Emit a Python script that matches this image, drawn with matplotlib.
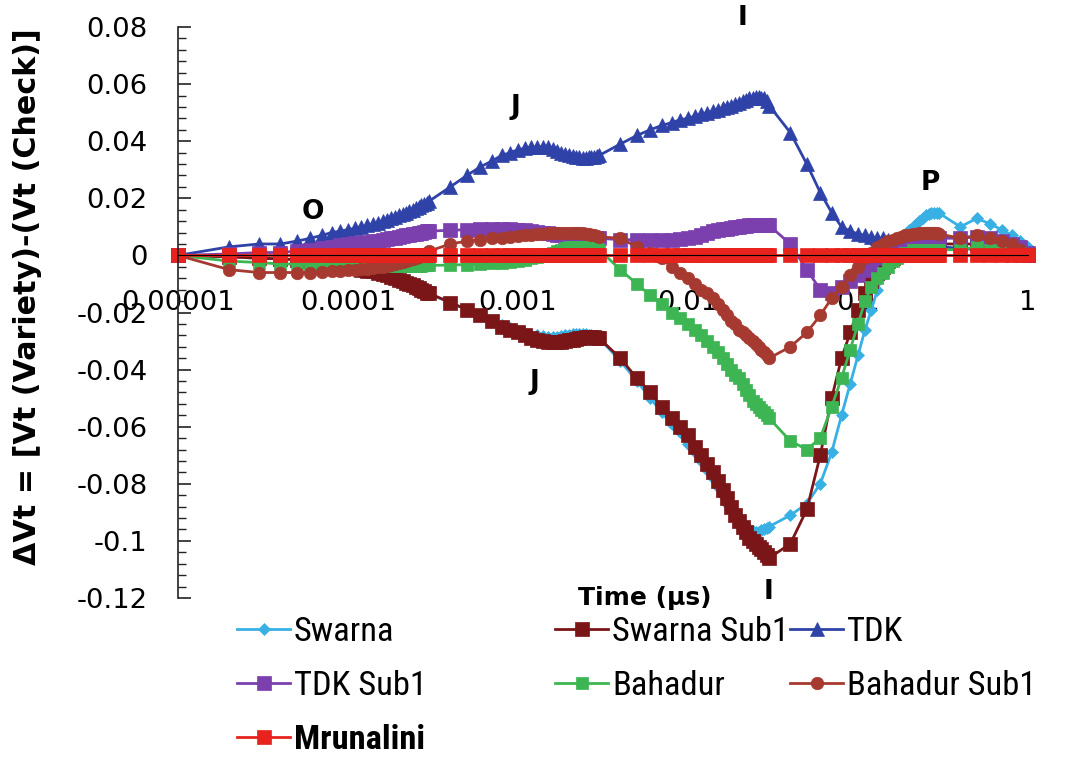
import matplotlib
matplotlib.use("Agg")
import matplotlib.pyplot as plt
from matplotlib import font_manager
from matplotlib.font_manager import FontProperties
from matplotlib.ticker import FixedLocator, NullLocator

# ---------------- data ----------------
t = [0.00001, 0.00002, 0.00003, 0.00004, 0.00005, 0.00006, 0.00007, 0.00008, 0.00009, 0.0001,
     0.00011, 0.00012, 0.00013, 0.00014, 0.00015, 0.00016, 0.00017, 0.00018, 0.00019, 0.0002,
     0.00021, 0.00022, 0.00023, 0.00024, 0.00025, 0.00026, 0.00027, 0.00028, 0.00029, 0.0003,
     0.0004, 0.0005, 0.0006, 0.0007, 0.0008, 0.0009, 0.001, 0.0011, 0.0012, 0.0013,
     0.0014, 0.0015, 0.0016, 0.0017, 0.0018, 0.0019, 0.002, 0.0021, 0.0022, 0.0023,
     0.0024, 0.0025, 0.0026, 0.0027, 0.0028, 0.0029, 0.003,
     0.004, 0.005, 0.006, 0.007, 0.008, 0.009, 0.01, 0.011, 0.012, 0.013,
     0.014, 0.015, 0.016, 0.017, 0.018, 0.019, 0.02, 0.021, 0.022, 0.023,
     0.024, 0.025, 0.026, 0.027, 0.028, 0.029, 0.03,
     0.04, 0.05, 0.06, 0.07, 0.08, 0.09, 0.1, 0.11, 0.12, 0.13,
     0.14, 0.15, 0.16, 0.17, 0.18, 0.19, 0.2, 0.21, 0.22, 0.23,
     0.24, 0.25, 0.26, 0.27, 0.28, 0.29, 0.3,
     0.4, 0.5, 0.6, 0.7, 0.8, 0.9, 1.0]

swarna = [0.0, -0.0005, -0.001, -0.0012, -0.0015, -0.002, -0.0025, -0.003, -0.0035, -0.004,
          -0.0045, -0.005, -0.0055, -0.006, -0.0063, -0.0067, -0.007, -0.0075, -0.008, -0.0085,
          -0.009, -0.0095, -0.010, -0.0105, -0.011, -0.0115, -0.012, -0.0125, -0.013, -0.0135,
          -0.0165, -0.019, -0.021, -0.023, -0.0245, -0.0255, -0.0265, -0.0272, -0.0278, -0.028,
          -0.0283, -0.0285, -0.0285, -0.0285, -0.0283, -0.028, -0.0278, -0.0276, -0.0275, -0.0275,
          -0.0275, -0.0276, -0.0278, -0.028, -0.0282, -0.0285, -0.029,
          -0.037, -0.044, -0.050, -0.055, -0.059, -0.062, -0.066, -0.069, -0.072, -0.075,
          -0.078, -0.081, -0.084, -0.087, -0.089, -0.091, -0.093, -0.094, -0.095, -0.096,
          -0.0965, -0.097, -0.0968, -0.0963, -0.096, -0.0955, -0.095,
          -0.091, -0.087, -0.080, -0.069, -0.056, -0.045, -0.035, -0.026, -0.019, -0.012,
          -0.007, -0.003, 0.0, 0.003, 0.005, 0.007, 0.009, 0.010, 0.011, 0.012,
          0.013, 0.014, 0.0145, 0.015, 0.015, 0.015, 0.0148,
          0.010, 0.013, 0.011, 0.009, 0.007, 0.005, 0.003]

swarna_sub1 = [0.0, -0.0005, -0.001, -0.0012, -0.0015, -0.002, -0.0025, -0.003, -0.0035, -0.004,
               -0.0045, -0.005, -0.0053, -0.0056, -0.006, -0.0065, -0.007, -0.0075, -0.008, -0.0085,
               -0.009, -0.0095, -0.010, -0.0105, -0.011, -0.0115, -0.012, -0.0125, -0.013, -0.0133,
               -0.0165, -0.019, -0.021, -0.023, -0.025, -0.026, -0.027, -0.028, -0.029, -0.0295,
               -0.030, -0.0303, -0.0305, -0.0305, -0.0303, -0.030, -0.0298, -0.0295, -0.0292, -0.029,
               -0.0288, -0.0285, -0.0285, -0.0285, -0.0285, -0.0288, -0.029,
               -0.036, -0.043, -0.048, -0.053, -0.057, -0.060, -0.063, -0.067, -0.070, -0.073,
               -0.076, -0.079, -0.082, -0.085, -0.088, -0.091, -0.093, -0.095, -0.097, -0.099,
               -0.100, -0.101, -0.102, -0.103, -0.104, -0.105, -0.106,
               -0.101, -0.089, -0.070, -0.050, -0.036, -0.027, -0.019, -0.013, -0.009, -0.006,
               -0.004, -0.002, -0.001, 0.0, 0.001, 0.002, 0.002, 0.003, 0.003, 0.003,
               0.004, 0.004, 0.004, 0.004, 0.004, 0.004, 0.004,
               0.004, 0.004, 0.003, 0.003, 0.002, 0.001, 0.0]

tdk = [0.0, 0.003, 0.004, 0.004, 0.005, 0.006, 0.007, 0.008, 0.0085, 0.009,
       0.0095, 0.010, 0.0105, 0.011, 0.0115, 0.012, 0.0125, 0.013, 0.0135, 0.014,
       0.0145, 0.015, 0.0155, 0.016, 0.0165, 0.017, 0.0175, 0.018, 0.0185, 0.019,
       0.024, 0.028, 0.031, 0.033, 0.035, 0.036, 0.037, 0.0375, 0.038, 0.038,
       0.038, 0.0378, 0.0372, 0.0366, 0.036, 0.0355, 0.035, 0.0347, 0.0345, 0.0343,
       0.0342, 0.0342, 0.0343, 0.0344, 0.0345, 0.0347, 0.035,
       0.039, 0.042, 0.044, 0.0455, 0.0465, 0.0475, 0.048, 0.0488, 0.0495, 0.050,
       0.0505, 0.051, 0.0515, 0.052, 0.0525, 0.053, 0.0535, 0.054, 0.0545, 0.055,
       0.0552, 0.0555, 0.0555, 0.0553, 0.055, 0.054, 0.0525,
       0.043, 0.032, 0.022, 0.015, 0.010, 0.0085, 0.0075, 0.007, 0.0065, 0.006,
       0.006, 0.0055, 0.005, 0.005, 0.0045, 0.0045, 0.004, 0.004, 0.004, 0.0035,
       0.0035, 0.0035, 0.003, 0.003, 0.003, 0.003, 0.003,
       0.0025, 0.002, 0.002, 0.0015, 0.001, 0.0005, 0.0]

tdk_sub1 = [0.0, 0.0005, 0.001, 0.001, 0.0015, 0.002, 0.0025, 0.003, 0.0035, 0.004,
            0.0042, 0.0045, 0.0048, 0.005, 0.0052, 0.0055, 0.0057, 0.006, 0.0062, 0.0065,
            0.0067, 0.007, 0.0072, 0.0074, 0.0076, 0.0078, 0.008, 0.0082, 0.0084, 0.0085,
            0.0088, 0.009, 0.0092, 0.0093, 0.0093, 0.0092, 0.009, 0.0088, 0.0085, 0.0082,
            0.008, 0.0078, 0.0075, 0.0072, 0.007, 0.0068, 0.0066, 0.0064, 0.0062, 0.006,
            0.006, 0.006, 0.006, 0.006, 0.006, 0.006, 0.006,
            0.0055, 0.0055, 0.0055, 0.0055, 0.0055, 0.0058, 0.006, 0.0065, 0.007, 0.0078,
            0.0085, 0.009, 0.0092, 0.0094, 0.0096, 0.0098, 0.010, 0.0102, 0.0104, 0.0105,
            0.0106, 0.0107, 0.0108, 0.0108, 0.0108, 0.0108, 0.0105,
            0.004, -0.005, -0.012, -0.013, -0.011, -0.009, -0.007, -0.005, -0.003, -0.001,
            0.0, 0.001, 0.002, 0.003, 0.004, 0.0045, 0.005, 0.005, 0.0055, 0.0055,
            0.006, 0.006, 0.006, 0.006, 0.006, 0.006, 0.006,
            0.006, 0.0065, 0.006, 0.005, 0.004, 0.003, 0.001]

bahadur = [0.0, -0.002, -0.0025, -0.003, -0.003, -0.003, -0.003, -0.0032, -0.0032, -0.0033,
           -0.0033, -0.0034, -0.0034, -0.0035, -0.0035, -0.0035, -0.0035, -0.0036, -0.0036, -0.0036,
           -0.0036, -0.0036, -0.0036, -0.0036, -0.0036, -0.0036, -0.0036, -0.0035, -0.0035, -0.0035,
           -0.0034, -0.0032, -0.003, -0.0028, -0.0025, -0.0022, -0.002, -0.0015, -0.001, -0.0005,
           0.0, 0.0005, 0.001, 0.0015, 0.002, 0.0025, 0.003, 0.003, 0.003, 0.003,
           0.003, 0.003, 0.003, 0.003, 0.0028, 0.0025, 0.002,
           -0.005, -0.010, -0.014, -0.017, -0.020, -0.022, -0.024, -0.026, -0.028, -0.030,
           -0.032, -0.034, -0.036, -0.038, -0.040, -0.042, -0.043, -0.045, -0.047, -0.049,
           -0.051, -0.052, -0.053, -0.054, -0.055, -0.056, -0.057,
           -0.065, -0.068, -0.064, -0.053, -0.043, -0.033, -0.024, -0.016, -0.011, -0.008,
           -0.006, -0.004, -0.002, -0.001, 0.0, 0.001, 0.001, 0.002, 0.002, 0.002,
           0.002, 0.002, 0.002, 0.002, 0.002, 0.002, 0.002,
           0.002, 0.003, 0.002, 0.002, 0.001, 0.001, 0.0]

bahadur_sub1 = [0.0, -0.005, -0.006, -0.006, -0.006, -0.006, -0.0058, -0.0056, -0.0054, -0.0052,
                -0.005, -0.0048, -0.0046, -0.0044, -0.0042, -0.004, -0.0037, -0.0034, -0.003, -0.0027,
                -0.0024, -0.002, -0.0016, -0.0012, -0.0008, -0.0004, 0.0, 0.0005, 0.001, 0.0015,
                0.004, 0.005, 0.0055, 0.006, 0.0062, 0.0065, 0.0068, 0.007, 0.0072, 0.0074,
                0.0076, 0.0078, 0.008, 0.008, 0.008, 0.008, 0.008, 0.008, 0.008, 0.008,
                0.0078, 0.0076, 0.0074, 0.0072, 0.007, 0.0068, 0.0065,
                0.006, 0.003, 0.001, -0.001, -0.004, -0.006, -0.008, -0.010, -0.012, -0.013,
                -0.015, -0.017, -0.019, -0.021, -0.023, -0.024, -0.026, -0.027, -0.028, -0.029,
                -0.030, -0.031, -0.032, -0.033, -0.034, -0.035, -0.036,
                -0.032, -0.027, -0.021, -0.015, -0.011, -0.007, -0.004, -0.001, 0.001, 0.003,
                0.004, 0.005, 0.0055, 0.006, 0.0065, 0.007, 0.007, 0.0075, 0.0075, 0.008,
                0.008, 0.008, 0.008, 0.008, 0.008, 0.0078, 0.0075,
                0.006, 0.007, 0.006, 0.005, 0.004, 0.002, 0.0]

mrunalini = [0.0] * len(t)

series_names = ["Swarna", "Swarna Sub1", "TDK", "TDK Sub1", "Bahadur", "Bahadur Sub1", "Mrunalini"]
x_tick_values = [0.00001, 0.0001, 0.001, 0.01, 0.1, 1]
x_tick_labels = ["0.00001", "0.0001", "0.001", "0.01", "0.1", "1"]
y_tick_values = [0.08, 0.06, 0.04, 0.02, 0, -0.02, -0.04, -0.06, -0.08, -0.1, -0.12]
y_tick_labels = ["0.08", "0.06", "0.04", "0.02", "0", "-0.02", "-0.04", "-0.06", "-0.08", "-0.1", "-0.12"]

# ---------------- fonts ----------------
plt.rcParams["font.family"] = ["DejaVu Sans"]


def _w(f):
    w = f.weight
    if isinstance(w, str):
        w = font_manager.weight_dict.get(w, 400)
    return w


def _is_narrow(f):
    nm = f.name
    if "Narrow" in nm or "Condensed" in nm:
        return True
    s = f.stretch
    if isinstance(s, str):
        return s in ("condensed", "semi-condensed", "extra-condensed", "ultra-condensed")
    return isinstance(s, int) and s < 500


def find_font(bold):
    prefs = ["Liberation Sans Narrow", "Arial Narrow", "Roboto Condensed", "Open Sans",
             "Noto Sans", "DejaVu Sans", "Lato", "Inter"]
    best, best_rank = None, 99
    for f in font_manager.fontManager.ttflist:
        if f.style != "normal" or not _is_narrow(f):
            continue
        w = _w(f)
        if bold and w < 600:
            continue
        if not bold and not (350 <= w <= 500):
            continue
        rank = 50
        for i, p in enumerate(prefs):
            if f.name.startswith(p):
                rank = i
                break
        if rank < best_rank:
            best, best_rank = f.fname, rank
    return best


reg_path = find_font(False)
bold_path = find_font(True)
if reg_path:
    leg_reg = FontProperties(fname=reg_path)
    leg_bold = FontProperties(fname=bold_path) if bold_path else FontProperties(fname=reg_path, weight="bold")
else:
    leg_reg = FontProperties(family="Liberation Sans")
    leg_bold = FontProperties(family="Liberation Sans", weight="bold")

# ---------------- figure ----------------
W, H = 1092, 757
fig = plt.figure(figsize=(W / 100, H / 100), dpi=100)
fig.patch.set_facecolor("white")
renderer = fig.canvas.get_renderer()


def fit(text, fp, target_px, rotation=0):
    tt = fig.text(0, 0, text, fontproperties=fp, rotation=rotation)
    tt.set_fontsize(10)
    bb = tt.get_window_extent(renderer)
    span = bb.height if rotation else bb.width
    tt.remove()
    return 10 * target_px / span


ax = fig.add_axes([178 / W, 1 - 598 / H, (1028 - 178) / W, (598 - 27) / H])
ax.set_xscale("log")
ax.set_xlim(1e-5, 1)
ax.set_ylim(-0.12, 0.08)

styles = [
    (swarna,       "#38b0e4", "D", 6.0),
    (swarna_sub1,  "#7a1518", "s", 9.5),
    (tdk,          "#2f42a8", "^", 10.0),
    (tdk_sub1,     "#7c3fae", "s", 9.5),
    (bahadur,      "#3cb552", "s", 8.5),
    (bahadur_sub1, "#a63a30", "o", 9.0),
    (mrunalini,    "#e8221d", "s", 10.5),
]
handles = []
for (vals, col, mk, ms), name in zip(styles, series_names):
    h, = ax.plot(t, vals, color=col, marker=mk, markersize=ms, markeredgecolor=col,
                 markeredgewidth=0.5, linewidth=2.0, clip_on=False, label=name)
    handles.append(h)

# spines
for s in ["top", "right"]:
    ax.spines[s].set_visible(False)
ax.spines["bottom"].set_position(("data", 0))
ax.spines["bottom"].set_color("black")
ax.spines["left"].set_color("#222222")
ax.spines["left"].set_linewidth(1.2)

tick_fp = FontProperties(family="DejaVu Sans")
tick_size = fit("0.0001", tick_fp, 95)

ax.xaxis.set_major_locator(FixedLocator(x_tick_values))
ax.xaxis.set_minor_locator(NullLocator())
ax.set_xticklabels(x_tick_labels)
ax.tick_params(axis="x", which="major", length=0, pad=25, labelsize=tick_size, colors="black")

ax.yaxis.set_major_locator(FixedLocator(y_tick_values))
ax.set_yticklabels(y_tick_labels)
ax.yaxis.set_minor_locator(FixedLocator([v / 1000 for v in range(-120, 81, 4)]))
ax.tick_params(axis="y", which="major", direction="in", length=9, width=1.2, pad=22,
               labelsize=tick_size, colors="#222222", labelcolor="black")
ax.tick_params(axis="y", which="minor", direction="in", length=6, width=1.0, colors="#222222")

# axis titles
ylab = "\u0394Vt = [Vt (Variety)-(Vt (Check)]"
ylab_fp = FontProperties(family="DejaVu Sans", weight="bold")
ylab_size = fit(ylab, ylab_fp, 537, rotation=90)
fig.text(28 / W, 1 - 297 / H, ylab, rotation=90, ha="center", va="center",
         fontproperties=ylab_fp, fontsize=ylab_size)
fig.text(645 / W, 1 - 598 / H, "Time (\u00b5s)", ha="center", va="center",
         fontsize=18, fontweight="bold")

# phase annotations
for lab, px, py in [("O", 313, 212), ("J", 515, 107), ("I", 742, 18), ("P", 930, 183),
                    ("J", 534, 382), ("I", 768, 592)]:
    fig.text(px / W, 1 - py / H, lab, ha="center", va="center", fontsize=19, fontweight="bold")

# legend: three columns
leg_size = fit("Swarna Sub1", leg_reg, 177)
leg_reg.set_size(leg_size)
leg_bold.set_size(leg_size)
tt = fig.text(0, 0, "Swarna", fontproperties=leg_reg)
row_h = tt.get_window_extent(renderer).height
tt.remove()
size_px = leg_size * 100 / 72
lspace = max(0.05, (54 - row_h) / size_px)
top_px = 632 - row_h / 2

cols = [(237, [0, 3, 6]), (555, [1, 4]), (790, [2, 5])]
for x0, idxs in cols:
    leg = fig.legend([handles[i] for i in idxs], [series_names[i] for i in idxs],
                     loc="upper left", bbox_to_anchor=(x0 / W, 1 - top_px / H),
                     frameon=False, borderpad=0, borderaxespad=0,
                     handlelength=53 / size_px, handletextpad=4 / size_px, labelspacing=lspace,
                     prop=leg_reg)
    for txt in leg.get_texts():
        if txt.get_text() == "Mrunalini":
            txt.set_fontproperties(leg_bold)

fig.savefig("out.png", dpi=100, facecolor="white")
